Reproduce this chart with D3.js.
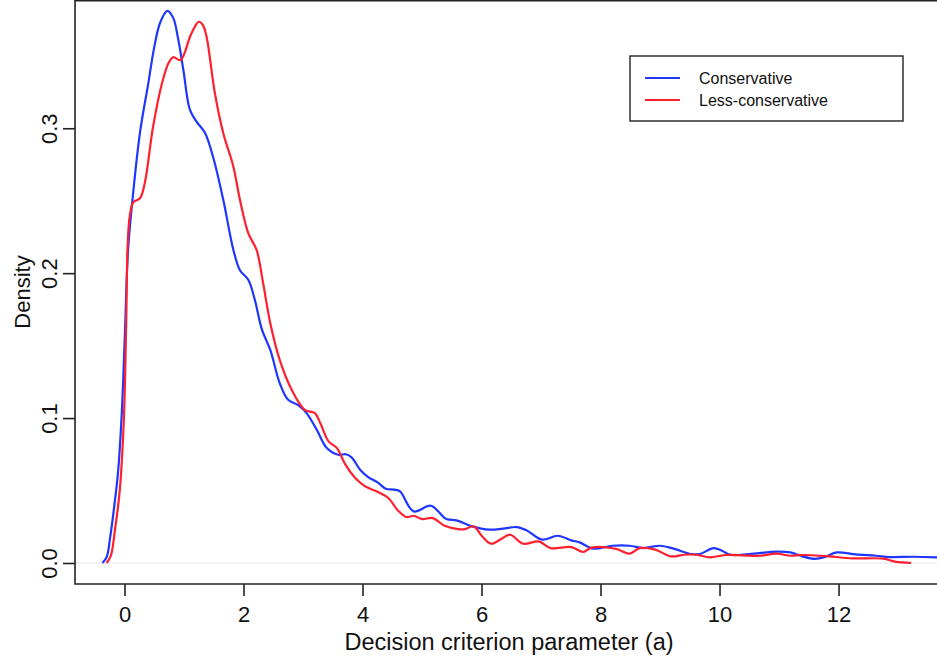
<!DOCTYPE html>
<html>
<head>
<meta charset="utf-8">
<script src="https://cdn.jsdelivr.net/npm/d3@7"></script>
<style>
  html, body { margin: 0; padding: 0; background: #fff; }
  svg { display: block; font-family: "Liberation Sans", Arial, Helvetica, sans-serif; }
</style>
</head>
<body>
<svg id="chart" width="937" height="662"></svg>
<script>
// Kernel density estimates of the decision criterion parameter (a)
const conservativeX = [-0.37, -0.30, -0.24, -0.17, -0.11, -0.05, 0.00, 0.06, 0.13, 0.26, 0.40, 0.50, 0.60, 0.72, 0.82, 0.90, 0.99, 1.10, 1.21, 1.35, 1.49, 1.66, 1.83, 1.94, 2.08, 2.19, 2.31, 2.45, 2.61, 2.75, 2.92, 3.06, 3.23, 3.40, 3.59, 3.72, 3.82, 3.96, 4.09, 4.26, 4.39, 4.53, 4.63, 4.86, 5.15, 5.41, 5.58, 5.84, 6.13, 6.36, 6.59, 6.76, 7.02, 7.28, 7.51, 7.65, 7.88, 8.20, 8.49, 8.72, 9.00, 9.24, 9.52, 9.67, 9.90, 10.04, 10.18, 10.50, 10.96, 11.19, 11.39, 11.60, 11.77, 11.97, 12.29, 12.63, 12.86, 13.26, 13.66];
const conservativeY = [0.000, 0.004, 0.018, 0.040, 0.062, 0.100, 0.150, 0.216, 0.249, 0.297, 0.331, 0.356, 0.373, 0.381, 0.376, 0.362, 0.340, 0.3126, 0.3046, 0.297, 0.280, 0.2506, 0.216, 0.202, 0.1954, 0.1816, 0.161, 0.147, 0.124, 0.1126, 0.109, 0.1034, 0.092, 0.0793, 0.0747, 0.075, 0.0727, 0.0644, 0.0595, 0.0554, 0.0513, 0.0506, 0.0494, 0.0356, 0.0395, 0.0303, 0.0294, 0.0253, 0.0230, 0.0237, 0.0248, 0.0225, 0.0161, 0.0188, 0.0156, 0.0142, 0.0099, 0.0119, 0.0119, 0.0103, 0.0119, 0.0097, 0.0062, 0.0062, 0.0103, 0.0085, 0.0057, 0.0062, 0.0078, 0.0073, 0.0046, 0.0028, 0.0041, 0.0073, 0.0059, 0.0050, 0.0041, 0.0043, 0.0039];

const lessConservativeX = [-0.30, -0.23, -0.16, -0.08, -0.01, 0.03, 0.05, 0.09, 0.15, 0.26, 0.34, 0.48, 0.63, 0.74, 0.82, 0.94, 1.10, 1.18, 1.25, 1.32, 1.38, 1.52, 1.66, 1.83, 1.94, 2.08, 2.22, 2.33, 2.45, 2.61, 2.81, 3.03, 3.20, 3.29, 3.43, 3.57, 3.71, 3.87, 4.04, 4.26, 4.43, 4.60, 4.74, 4.86, 5.00, 5.18, 5.38, 5.61, 5.72, 5.87, 6.01, 6.16, 6.33, 6.48, 6.70, 6.96, 7.16, 7.51, 7.71, 7.85, 8.26, 8.49, 8.66, 8.92, 9.18, 9.41, 9.61, 9.84, 10.10, 10.67, 10.96, 11.19, 11.39, 11.83, 12.23, 12.75, 12.95, 13.22];
const lessConservativeY = [0.000, 0.005, 0.023, 0.050, 0.100, 0.170, 0.216, 0.240, 0.249, 0.2517, 0.262, 0.301, 0.331, 0.345, 0.349, 0.347, 0.363, 0.370, 0.3735, 0.371, 0.363, 0.324, 0.2966, 0.2735, 0.2506, 0.2276, 0.216, 0.193, 0.1655, 0.140, 0.1195, 0.1057, 0.1034, 0.0966, 0.0839, 0.0793, 0.068, 0.059, 0.053, 0.049, 0.045, 0.036, 0.0317, 0.0326, 0.0303, 0.0310, 0.0257, 0.0234, 0.0234, 0.0253, 0.0184, 0.0133, 0.0165, 0.0195, 0.0133, 0.0149, 0.0103, 0.0110, 0.0076, 0.0106, 0.0097, 0.0064, 0.0103, 0.0092, 0.0046, 0.0057, 0.0057, 0.0039, 0.0055, 0.0050, 0.0064, 0.0050, 0.0055, 0.0046, 0.0032, 0.0030, 0.0009, 0.000];

const seriesNames = ["Conservative", "Less-conservative"];
const seriesColors = ["#1f36ff", "#ff1f2f"];
const xTicks = [0, 2, 4, 6, 8, 10, 12];
const yTicks = [0.0, 0.1, 0.2, 0.3];
const xTitle = "Decision criterion parameter (a)";
const yTitle = "Density";

const series = [
  { name: seriesNames[0], color: seriesColors[0], pts: conservativeX.map((x, i) => [x, conservativeY[i]]) },
  { name: seriesNames[1], color: seriesColors[1], pts: lessConservativeX.map((x, i) => [x, lessConservativeY[i]]) }
];

const svg = d3.select("#chart");
const plot = { left: 75, right: 937, top: 0, bottom: 584 };

const x = d3.scaleLinear().domain([-0.832, 13.655]).range([plot.left, plot.right]);
const y = d3.scaleLinear().domain([-0.0145, 0.3885]).range([plot.bottom, plot.top]);

svg.append("defs").append("clipPath").attr("id", "plotClip")
  .append("rect")
  .attr("x", plot.left).attr("y", plot.top)
  .attr("width", plot.right - plot.left).attr("height", plot.bottom - plot.top);

// zero reference line
svg.append("line")
  .attr("x1", plot.left).attr("x2", plot.right)
  .attr("y1", y(0)).attr("y2", y(0))
  .attr("stroke", "#e6e6e6").attr("stroke-width", 1);

// density curves
const line = d3.line()
  .x(d => x(d[0]))
  .y(d => y(d[1]))
  .curve(d3.curveCatmullRom.alpha(0.5));

svg.append("g").attr("clip-path", "url(#plotClip)")
  .selectAll("path")
  .data(series)
  .join("path")
  .attr("d", d => line(d.pts))
  .attr("fill", "none")
  .attr("stroke", d => d.color)
  .attr("stroke-width", 2.2)
  .attr("stroke-linejoin", "round");

// frame
const frame = svg.append("g").attr("stroke", "#222").attr("stroke-width", 1.6).attr("fill", "none");
frame.append("path")
  .attr("d", `M${plot.right},${plot.top + 0.8}H${plot.left}V${plot.bottom}H${plot.right}`);

// x axis
const xAxis = svg.append("g")
  .attr("transform", `translate(0,${plot.bottom})`)
  .call(d3.axisBottom(x).tickValues(xTicks).tickFormat(d3.format("d")).tickSize(12).tickSizeOuter(0).tickPadding(10));
xAxis.select(".domain").remove();
xAxis.selectAll(".tick line").attr("stroke", "#222").attr("stroke-width", 1.6);
xAxis.selectAll(".tick text")
  .attr("font-size", 22).attr("fill", "#111")
  .attr("font-family", "Liberation Sans, Arial, sans-serif");

// y axis with rotated labels
const yAxis = svg.append("g")
  .attr("transform", `translate(${plot.left},0)`)
  .call(d3.axisLeft(y).tickValues(yTicks).tickFormat(d3.format(".1f")).tickSize(12).tickSizeOuter(0));
yAxis.select(".domain").remove();
yAxis.selectAll(".tick line").attr("stroke", "#222").attr("stroke-width", 1.6);
yAxis.selectAll(".tick text")
  .attr("font-size", 22).attr("fill", "#111")
  .attr("font-family", "Liberation Sans, Arial, sans-serif")
  .attr("x", null).attr("dy", null)
  .attr("text-anchor", "middle")
  .attr("transform", "translate(-18,0) rotate(-90)");

// axis titles
svg.append("text")
  .attr("x", (plot.left + plot.right) / 2 + 3)
  .attr("y", 650)
  .attr("text-anchor", "middle")
  .attr("font-size", 23.5).attr("fill", "#111")
  .text(xTitle);

svg.append("text")
  .attr("transform", `translate(30,${(plot.top + plot.bottom) / 2}) rotate(-90)`)
  .attr("text-anchor", "middle")
  .attr("font-size", 22).attr("fill", "#111")
  .text(yTitle);

// legend
const legend = svg.append("g").attr("transform", "translate(630,56)");
legend.append("rect")
  .attr("x", 0).attr("y", 0).attr("width", 273).attr("height", 65)
  .attr("fill", "#fff").attr("stroke", "#222").attr("stroke-width", 1.4);
const items = legend.selectAll("g.item").data(series).join("g")
  .attr("class", "item")
  .attr("transform", (d, i) => `translate(0,${22 + i * 22})`);
items.append("line")
  .attr("x1", 15).attr("x2", 50).attr("y1", 0).attr("y2", 0)
  .attr("stroke", d => d.color).attr("stroke-width", 2.2);
items.append("text")
  .attr("x", 69).attr("y", 6)
  .attr("font-size", 16).attr("fill", "#111")
  .text(d => d.name);
</script>
</body>
</html>
